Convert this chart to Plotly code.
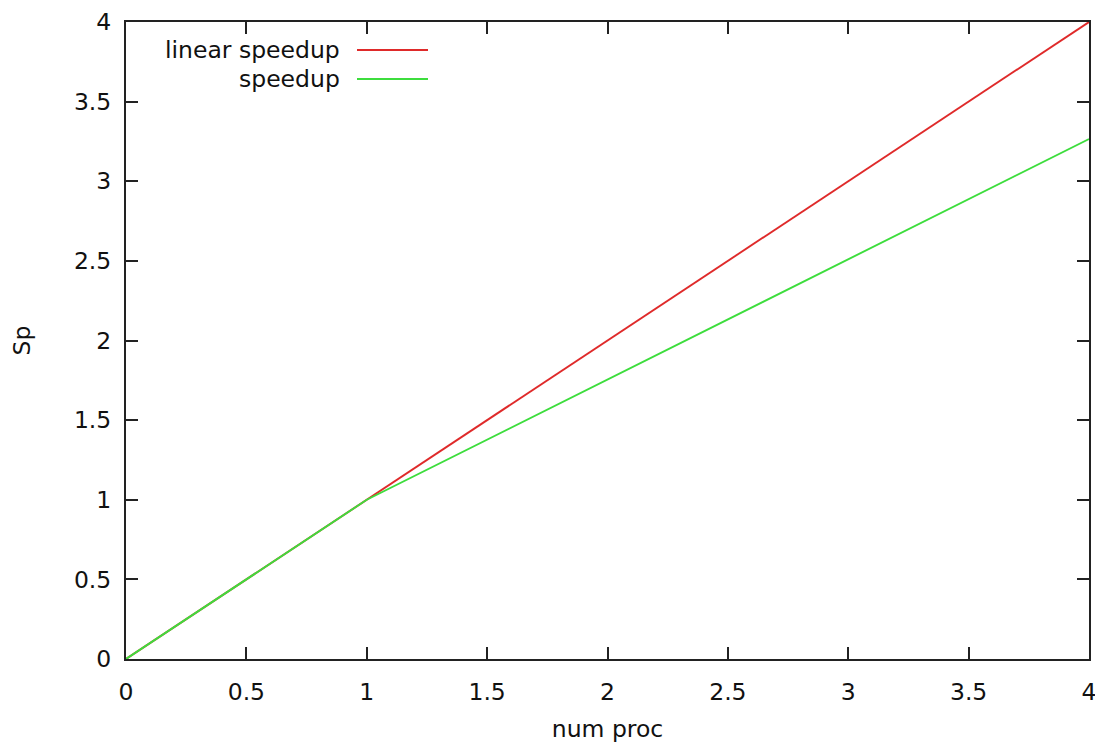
import plotly.graph_objects as go

num_proc = [0, 1, 2, 3, 4]
linear_speedup = [0, 1, 2, 3, 4]
speedup_x = [0, 1, 4]
speedup = [0, 1, 3.265]

tick_vals = [0, 0.5, 1, 1.5, 2, 2.5, 3, 3.5, 4]
tick_text = ["0", "0.5", "1", "1.5", "2", "2.5", "3", "3.5", "4"]

RED = "#df2a2a"
GREEN = "#3ddd3d"
FONT = dict(family="DejaVu Sans", size=23.5, color="#111111")

fig = go.Figure()
fig.add_trace(go.Scatter(x=num_proc, y=linear_speedup, mode="lines",
                         line=dict(color=RED, width=1.9), name="linear speedup",
                         showlegend=False))
fig.add_trace(go.Scatter(x=speedup_x, y=speedup, mode="lines",
                         line=dict(color=GREEN, width=1.9), name="speedup",
                         showlegend=False))

axis_common = dict(
    range=[0, 4], tickvals=tick_vals, ticktext=tick_text,
    ticks="inside", ticklen=12, tickwidth=1.7, tickcolor="#222222",
    showline=True, linecolor="#222222", linewidth=2, mirror="ticks",
    showgrid=False, zeroline=False, tickfont=FONT, automargin=False,
)

fig.update_xaxes(**axis_common, ticklabelstandoff=11,
                 title=dict(text="num proc", font=FONT, standoff=15))
fig.update_yaxes(**axis_common, ticklabelstandoff=8,
                 title=dict(text="Sp", font=FONT, standoff=42))

# page body has an 8px margin, so figure coords = screen coords - 8
W, H = 1095, 737
L, R, T, B = 118, 1081, 14, 651
legend_items = [("linear speedup", RED), ("speedup", GREEN)]
for i, (label, color) in enumerate(legend_items):
    ypix = 42 + i * 29
    yp = 1 - (ypix - T) / (B - T)
    x_text = (334 - L) / (R - L)
    x0 = (349 - L) / (R - L)
    x1 = (420 - L) / (R - L)
    fig.add_annotation(x=x_text, y=yp, xref="paper", yref="paper", text=label,
                       showarrow=False, xanchor="right", yanchor="middle", font=FONT)
    fig.add_shape(type="line", xref="paper", yref="paper", x0=x0, x1=x1, y0=yp, y1=yp,
                  line=dict(color=color, width=1.9))

fig.update_layout(
    width=W, height=H,
    margin=dict(l=L, r=W - R, t=T, b=H - B),
    plot_bgcolor="white", paper_bgcolor="white",
    font=FONT,
)

fig.write_html("out.html")
